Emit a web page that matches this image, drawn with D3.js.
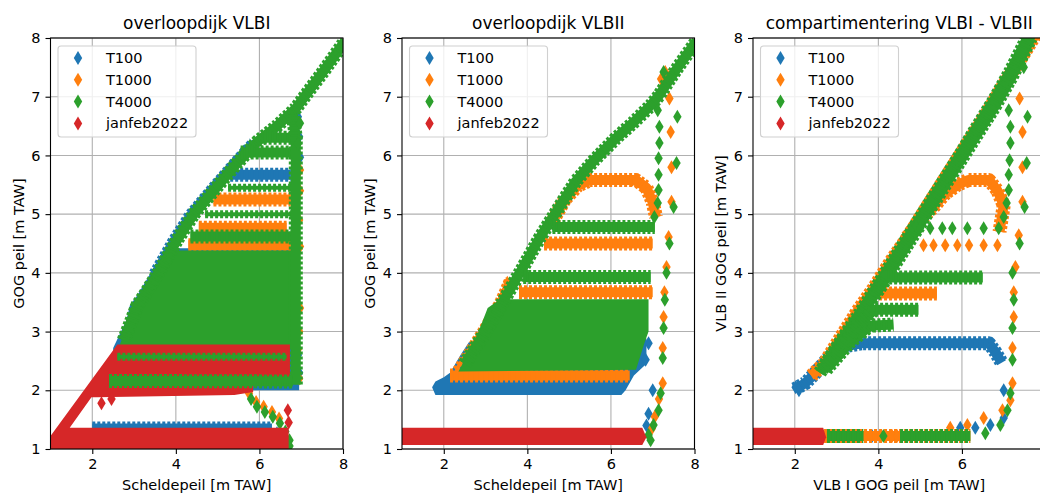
<!DOCTYPE html>
<html>
<head>
<meta charset="utf-8">
<script src="https://cdn.jsdelivr.net/npm/d3@7"></script>
<style>
  body { margin: 0; background: #fff; }
  svg text { font-family: "DejaVu Sans", sans-serif; fill: #000; }
</style>
</head>
<body>
<svg id="fig" width="1040" height="494"></svg>
<script>
// series + labels
const seriesNames  = ["T100", "T1000", "T4000", "janfeb2022"];
const seriesColors = ["#1f77b4", "#ff7f0e", "#2ca02c", "#d62728"];
const titles  = ["overloopdijk VLBI", "overloopdijk VLBII", "compartimentering VLBI - VLBII"];
const xLabels = ["Scheldepeil [m TAW]", "Scheldepeil [m TAW]", "VLB I GOG peil [m TAW]"];
const yLabels = ["GOG peil [m TAW]", "GOG peil [m TAW]", "VLB II GOG peil [m TAW]"];
const xTicks = [[2, 4, 6, 8], [2, 4, 6, 8], [2, 4, 6]];
const yTicks = [1, 2, 3, 4, 5, 6, 7, 8];

// layers per panel: [series index, kind, points]  (kind: area / band / thin / dots)
const panel1 = [
  [0, "area", [[2.5,2.0],[2.5,2.72],[2.82,3.2],[2.9,3.45],[3.08,3.62],[3.4,4.0],[3.75,4.42],[6.95,4.42],[6.95,2.0]]],
  [0, "thin", [[3.45,4.0],[3.9,4.56],[4.3,5.0],[4.8,5.42],[5.35,5.87],[5.83,6.24]]],
  [0, "band", [[5.3,5.67],[6.75,5.67]]],
  [0, "band", [[2.0,1.35],[6.3,1.35]]],
  [0, "dots", [[6.92,6.66],[6.95,6.32],[6.97,5.97],[6.92,2.6],[6.95,2.3],[6.42,1.27],[6.55,1.22],[6.3,1.1]]],
  [1, "band", [[4.9,5.25],[6.75,5.25]]],
  [1, "band", [[4.55,4.77],[6.65,4.77]]],
  [1, "band", [[4.3,4.47],[6.75,4.47]]],
  [1, "dots", [[6.97,5.75],[6.97,5.4],[6.95,4.9],[6.97,4.45],[6.97,3.4],[6.95,3.0],[6.92,2.7],[5.75,1.95],[5.92,1.8],[6.1,1.72],[6.3,1.63],[6.47,1.52],[4.55,4.6],[6.95,2.2]]],
  [2, "area", [[2.62,2.7],[2.88,3.2],[2.98,3.45],[3.15,3.62],[3.45,4.0],[3.75,4.38],[6.9,4.38],[6.9,2.7]]],
  [2, "band", [[2.75,2.85],[3.08,3.45],[3.25,3.62],[3.58,4.0],[4.03,4.56],[4.43,5.0],[4.93,5.42],[5.48,5.88],[5.96,6.24],[6.42,6.5],[6.87,6.8],[7.1,7.02],[7.55,7.45],[8.05,7.95]]],
  [2, "band", [[6.1,6.3],[6.8,6.3]]],
  [2, "band", [[5.55,6.05],[6.85,6.05]]],
  [2, "thin", [[5.25,5.45],[6.8,5.45]]],
  [2, "thin", [[4.7,5.0],[6.8,5.0]]],
  [2, "band", [[4.35,4.62],[6.8,4.62]]],
  [2, "band", [[6.87,2.1],[6.87,6.3],[6.8,6.7]]],
  [2, "dots", [[5.94,1.72],[6.13,1.63],[6.32,1.55],[6.49,1.44],[6.62,1.3],[6.72,1.15],[6.72,1.05],[5.8,1.85],[6.97,6.55],[6.92,6.2]]],
  [3, "area", [[1.0,1.0],[1.0,1.22],[2.6,2.78],[6.73,2.78],[6.73,2.12],[5.85,2.12],[5.85,1.97],[5.4,1.92],[2.1,1.88],[1.98,1.88],[1.46,1.36],[6.7,1.36],[6.7,1.0]]],
  [3, "dots", [[2.22,1.78],[2.46,1.85],[6.68,1.66],[6.7,1.45]]],
  [2, "band", [[2.4,2.16],[6.8,2.15]]],
  [2, "thin", [[2.6,2.57],[6.65,2.57]]]
];

const panel2 = [
  [0, "area", [[1.72,2.05],[1.8,2.15],[2.0,2.22],[2.15,2.3],[2.4,2.6],[2.6,2.82],[2.9,2.88],[6.85,2.88],[6.85,2.45],[6.55,2.25],[6.35,2.0],[6.25,1.92],[1.8,1.92]]],
  [0, "dots", [[6.83,2.52],[6.9,2.8],[7.0,2.0],[6.9,1.6],[6.85,1.4]]],
  [1, "band", [[2.15,2.25],[6.45,2.25]]],
  [1, "thin", [[2.3,2.35],[2.9,3.02],[3.3,3.5],[3.55,3.9]]],
  [1, "band", [[4.62,4.9],[4.9,5.25],[5.2,5.48],[5.5,5.58],[6.6,5.58],[6.85,5.45],[7.0,5.2],[7.08,4.95]]],
  [1, "band", [[4.4,4.5],[7.0,4.5]]],
  [1, "band", [[3.8,3.67],[7.0,3.67]]],
  [1, "dots", [[7.4,6.97],[7.43,6.4],[7.45,5.8],[7.45,5.21],[7.38,4.61],[7.33,4.1],[7.28,3.67],[7.26,3.25],[7.24,2.72],[7.24,2.12],[7.15,1.85],[7.05,1.55],[6.98,1.35],[3.52,3.83],[3.18,3.25],[3.04,3.08],[2.8,2.86],[7.2,7.3],[7.3,7.42]]],
  [2, "area", [[2.35,2.32],[2.75,2.85],[3.05,3.4],[3.35,3.55],[6.9,3.55],[6.9,3.0],[6.8,2.8],[6.6,2.35]]],
  [2, "band", [[2.5,2.45],[3.0,3.0],[3.45,3.55],[3.9,4.1],[4.3,4.6],[4.7,5.05],[5.15,5.55],[5.6,5.92],[6.1,6.28],[6.55,6.57],[6.95,6.85],[7.15,7.02],[7.55,7.45],[8.05,7.95]]],
  [2, "band", [[4.6,4.78],[7.05,4.78]]],
  [2, "band", [[3.9,3.93],[6.95,3.93]]],
  [2, "dots", [[7.12,6.77],[7.16,6.49],[7.16,6.21],[7.14,5.95],[7.14,5.67],[7.14,5.41],[7.12,5.19],[7.04,4.95],[7.59,6.66],[7.57,5.87],[7.5,5.12],[7.4,4.5],[7.33,4.0],[7.29,3.54],[7.26,3.06],[7.24,2.55],[7.19,1.95],[7.14,1.66],[7.02,1.41],[6.9,1.24],[7.26,7.42],[7.59,7.46],[6.95,1.15]]],
  [3, "area", [[1.0,1.07],[6.75,1.07],[6.85,1.2],[6.75,1.36],[1.0,1.36]]]
];

const panel3 = [
  [0, "band", [[2.0,2.02],[2.25,2.12],[2.5,2.3],[2.8,2.55],[3.2,2.75],[3.6,2.8],[6.65,2.8],[6.8,2.65],[6.95,2.47]]],
  [0, "dots", [[7.0,2.0],[7.0,1.53],[5.96,1.36],[6.32,1.36],[6.68,1.41],[3.85,1.22],[2.02,2.05],[2.1,2.0]]],
  [1, "band", [[2.4,2.25],[2.7,2.45],[3.1,2.9],[3.5,3.35],[3.9,3.75],[4.3,4.2],[4.7,4.6],[5.1,5.05],[5.5,5.5],[6.0,6.05],[6.5,6.6],[7.0,7.2],[7.5,7.75],[7.75,8.05]]],
  [1, "band", [[4.69,4.61],[5.0,4.9],[5.32,5.12],[5.6,5.35],[5.9,5.5],[6.15,5.58],[6.65,5.58],[6.85,5.4],[7.0,5.15],[6.9,4.7]]],
  [1, "band", [[3.8,3.72],[4.0,3.65],[5.4,3.65]]],
  [1, "band", [[2.7,1.22],[6.2,1.22]]],
  [1, "dots", [[4.65,4.47],[5.08,4.47],[5.32,4.47],[5.6,4.47],[5.89,4.47],[6.17,4.47],[6.52,4.47],[6.85,4.47],[2.45,2.3],[2.55,2.35],[4.33,1.22],[4.45,1.22],[5.72,1.36],[6.13,1.41],[6.52,1.53],[6.97,1.66],[7.16,1.83],[7.21,2.12],[7.21,2.72],[7.24,3.25],[7.24,3.67],[7.28,4.1],[7.36,4.64],[7.45,5.21],[7.45,5.8],[7.45,6.4],[7.38,6.97]]],
  [2, "band", [[2.65,2.35],[3.1,2.8],[3.6,3.3],[4.0,3.72],[4.4,4.15],[4.8,4.6],[5.2,5.05],[5.6,5.5],[6.0,5.95],[6.4,6.4],[6.8,6.85],[7.2,7.35],[7.65,8.0]]],
  [2, "band", [[2.6,2.3],[3.05,2.78],[3.55,3.3],[3.95,3.75],[4.35,4.2],[4.75,4.65],[5.15,5.1],[5.55,5.55],[5.95,6.0],[6.35,6.47],[6.75,6.92],[7.15,7.42],[7.6,8.05]]],
  [2, "band", [[2.75,2.35],[3.3,2.8],[3.8,3.1],[4.36,3.12]]],
  [2, "band", [[3.0,2.6],[3.5,3.1],[3.9,3.37],[4.96,3.37]]],
  [2, "band", [[3.9,3.6],[4.2,3.92],[6.5,3.92]]],
  [2, "band", [[2.77,1.22],[3.64,1.22]]],
  [2, "band", [[4.52,1.22],[6.2,1.22]]],
  [2, "dots", [[4.12,1.22],[4.69,1.22],[4.8,4.78],[4.9,4.8],[5.0,4.76],[5.24,4.76],[5.53,4.76],[5.77,4.76],[6.13,4.76],[6.52,4.76],[6.88,4.76],[7.12,6.77],[7.16,6.49],[7.16,6.21],[7.14,5.92],[7.12,5.67],[7.12,5.41],[7.07,5.19],[7.0,4.95],[7.57,6.66],[7.55,5.87],[7.5,5.12],[7.38,4.5],[7.21,4.0],[7.24,3.54],[7.21,3.06],[7.21,2.52],[7.16,1.95],[7.09,1.66],[6.92,1.41],[6.56,1.27],[7.48,7.5]]],
  [3, "area", [[1.0,1.07],[2.68,1.07],[2.75,1.2],[2.68,1.36],[1.0,1.36]]]
];
const panels = [panel1, panel2, panel3];

// layout
const svg = d3.select("#fig");
const plotLeft = [50.5, 402, 753];
const plotW = 292.5, plotTop = 38, plotBottom = 449;
const diamond = "M0,-7L4.2,0L0,7L-4.2,0Z";
const fs = "14.5px";
const bandStyle = { band: [10, 14], thin: [4, 8] };  // core width, toothed width

panels.forEach(function(layers, p) {
  const x = d3.scaleLinear().domain([1, 8]).range([plotLeft[p], plotLeft[p] + plotW]);
  const y = d3.scaleLinear().domain([1, 8]).range([plotBottom, plotTop]);
  const g = svg.append("g");

  g.append("clipPath").attr("id", "clip" + p)
    .append("rect")
    .attr("x", x(1)).attr("y", y(8))
    .attr("width", plotW).attr("height", plotBottom - plotTop);

  // grid
  g.selectAll(".gx").data(xTicks[p]).enter().append("line")
    .attr("x1", d => x(d)).attr("x2", d => x(d))
    .attr("y1", y(1)).attr("y2", y(8))
    .attr("stroke", "#b0b0b0").attr("stroke-width", 1.1);
  g.selectAll(".gy").data(yTicks).enter().append("line")
    .attr("x1", x(1)).attr("x2", x(8))
    .attr("y1", d => y(d)).attr("y2", d => y(d))
    .attr("stroke", "#b0b0b0").attr("stroke-width", 1.1);

  // data marks
  const marks = g.append("g").attr("clip-path", "url(#clip" + p + ")");
  const line = d3.line().x(d => x(d[0])).y(d => y(d[1]));
  layers.forEach(function(layer) {
    const col = seriesColors[layer[0]], kind = layer[1], pts = layer[2];
    if (kind === "area") {
      marks.append("path").attr("d", line(pts) + "Z").attr("fill", col);
    } else if (kind === "dots") {
      marks.selectAll(null).data(pts).enter().append("path")
        .attr("d", diamond)
        .attr("transform", d => "translate(" + x(d[0]) + "," + y(d[1]) + ")")
        .attr("fill", col);
    } else {
      // solid core + toothed edge, like a row of overlapping diamonds
      const w = bandStyle[kind];
      marks.append("path").attr("d", line(pts))
        .attr("fill", "none").attr("stroke", col).attr("stroke-width", w[0])
        .attr("stroke-linejoin", "round");
      marks.append("path").attr("d", line(pts))
        .attr("fill", "none").attr("stroke", col).attr("stroke-width", w[1])
        .attr("stroke-dasharray", "3,2").attr("stroke-linejoin", "round");
    }
  });

  // axes
  const xAxis = d3.axisBottom(x).tickValues(xTicks[p]).tickFormat(d3.format("d")).tickSize(5).tickPadding(5);
  const yAxis = d3.axisLeft(y).tickValues(yTicks).tickFormat(d3.format("d")).tickSize(5).tickPadding(5);
  const xg = g.append("g").attr("transform", "translate(0," + plotBottom + ")").call(xAxis);
  const yg = g.append("g").attr("transform", "translate(" + x(1) + ",0)").call(yAxis);
  [xg, yg].forEach(a => {
    a.select(".domain").remove();
    a.selectAll("line").attr("stroke", "#000").attr("stroke-width", 1.1);
    a.selectAll("text").style("font-size", fs);
  });

  g.append("rect")
    .attr("x", x(1)).attr("y", y(8))
    .attr("width", plotW).attr("height", plotBottom - plotTop)
    .attr("fill", "none").attr("stroke", "#000").attr("stroke-width", 1.1);

  // texts
  g.append("text").text(titles[p])
    .attr("x", x(1) + plotW / 2).attr("y", 29)
    .attr("text-anchor", "middle").style("font-size", "17px");
  g.append("text").text(xLabels[p])
    .attr("x", x(1) + plotW / 2).attr("y", 490)
    .attr("text-anchor", "middle").style("font-size", fs);
  g.append("text").text(yLabels[p])
    .attr("transform", "translate(" + (x(1) - 32) + "," + ((plotTop + plotBottom) / 2) + ") rotate(-90)")
    .attr("text-anchor", "middle").attr("dominant-baseline", "central")
    .style("font-size", fs);

  // legend
  const lx = x(1) + 7.5, ly = 46;
  const leg = g.append("g");
  leg.append("rect")
    .attr("x", lx).attr("y", ly).attr("width", 138).attr("height", 91)
    .attr("rx", 3).attr("fill", "#fff").attr("fill-opacity", 0.8)
    .attr("stroke", "#d0d0d0").attr("stroke-width", 1.1);
  leg.selectAll(".lm").data(seriesNames).enter().append("path")
    .attr("d", diamond)
    .attr("transform", (d, i) => "translate(" + (lx + 20) + "," + (ly + 12 + i * 21.8) + ")")
    .attr("fill", (d, i) => seriesColors[i]);
  leg.selectAll(".lt").data(seriesNames).enter().append("text")
    .text(d => d)
    .attr("x", lx + 48).attr("y", (d, i) => ly + 12 + i * 21.8)
    .attr("dominant-baseline", "central")
    .style("font-size", fs);
});
</script>
</body>
</html>
